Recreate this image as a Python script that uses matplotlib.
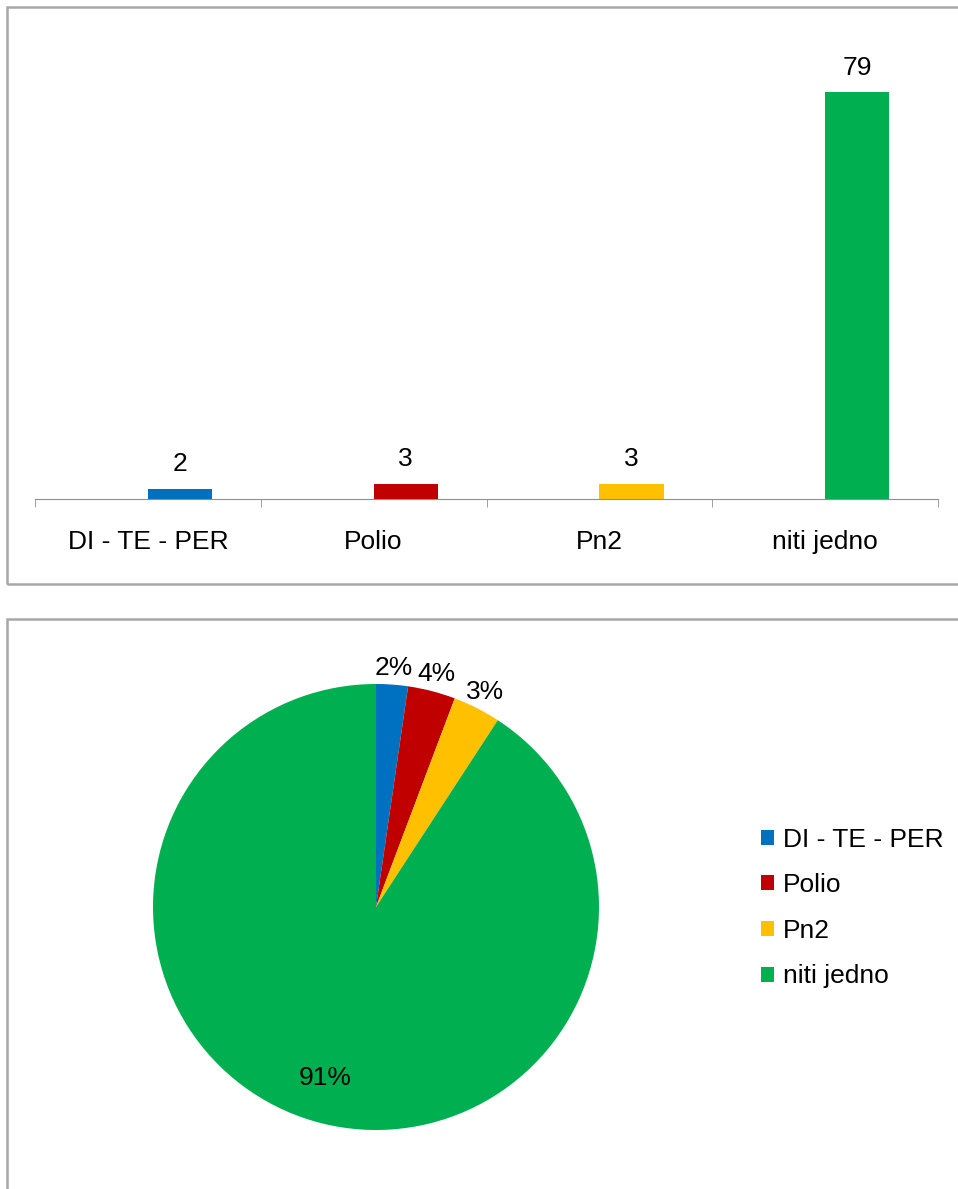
# Bar chart of counts plus pie chart of shares, two framed panels.

import matplotlib
matplotlib.use("Agg")
import matplotlib.pyplot as plt
import numpy as np
from matplotlib.patches import Rectangle, Patch

categories = ["DI - TE - PER", "Polio", "Pn2", "niti jedno"]
counts = [2, 3, 3, 79]
pie_labels = ["2%", "4%", "3%", "91%"]
colors = ["#0070C0", "#C00000", "#FFC000", "#00B050"]

W, H = 958, 1189
plt.rcParams["font.family"] = ["Liberation Sans", "DejaVu Sans"]
FS = 19


def fx(px):
    return px / W


def fy(py):
    return 1 - py / H


def main():
    fig = plt.figure(figsize=(W / 100, H / 100), dpi=100)

    # panel frames
    frame_kw = dict(transform=fig.transFigure, fill=False, edgecolor="#a8a8a8", linewidth=1.8)
    fig.patches.append(Rectangle((fx(7), fy(584)), fx(970 - 7), fy(7) - fy(584), **frame_kw))
    fig.patches.append(Rectangle((fx(7), fy(1200)), fx(970 - 7), fy(619) - fy(1200), **frame_kw))

    # bar chart (bars sit right of centre, like the first of a two-series cluster)
    ax = fig.add_axes([fx(35), fy(499), fx(938 - 35), fy(20) - fy(499)])
    x = np.arange(len(categories))
    bw = 0.285
    bars = ax.bar(x + bw / 2, counts, width=bw, color=colors)
    ax.set_xlim(-0.5, len(categories) - 0.5)
    ax.set_ylim(0, 93)
    for b, v in zip(bars, counts):
        ax.annotate(str(v), (b.get_x() + b.get_width() / 2, b.get_height()),
                    xytext=(0, 9), textcoords="offset points",
                    ha="center", va="bottom", fontsize=FS)
    for s in ["top", "right", "left"]:
        ax.spines[s].set_visible(False)
    ax.spines["bottom"].set_color("#909090")
    ax.set_yticks([])
    ax.set_xticks(x)
    ax.set_xticklabels(categories, fontsize=FS)
    ax.tick_params(axis="x", which="major", length=0, pad=22.5)
    ax.set_xticks(np.arange(len(categories) + 1) - 0.5, minor=True)
    ax.tick_params(axis="x", which="minor", length=6, color="#909090")

    # pie chart
    r = 223
    pax = fig.add_axes([fx(376 - r), fy(907 + r), fx(2 * r), fy(907 - r) - fy(907 + r)])
    wedges, _ = pax.pie(counts, colors=colors, startangle=90, counterclock=False,
                        radius=1, wedgeprops=dict(linewidth=0))
    pax.set_xlim(-1, 1)
    pax.set_ylim(-1, 1)
    pax.set_aspect("equal")
    dists = [1.075, 1.08, 1.08, 0.8]
    for w, lab, d in zip(wedges, pie_labels, dists):
        ang = np.deg2rad((w.theta1 + w.theta2) / 2)
        pax.text(d * np.cos(ang), d * np.sin(ang), lab, ha="center", va="center",
                 fontsize=FS, clip_on=False)

    handles = [Patch(facecolor=c) for c in colors]
    fig.legend(handles, categories, loc="center left",
               bbox_to_anchor=(fx(737), fy(908)), frameon=False, fontsize=FS,
               handlelength=0.5, handleheight=0.5, handletextpad=0.35,
               labelspacing=0.82)

    fig.savefig("out.png", dpi=100)


if __name__ == "__main__":
    main()
